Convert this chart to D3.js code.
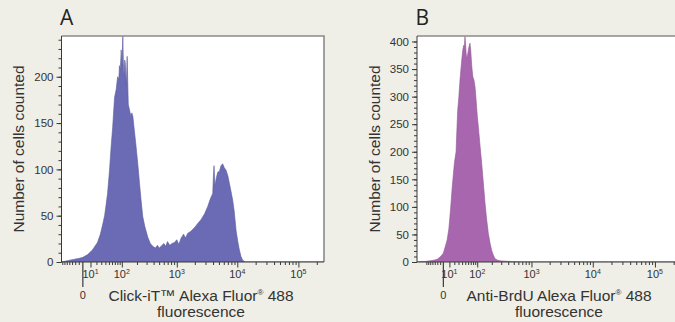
<!DOCTYPE html>
<html>
<head>
<meta charset="utf-8">
<script src="https://cdn.jsdelivr.net/npm/d3@7"></script>
<style>
  body { margin: 0; background: #efeee7; }
  svg { display: block; font-family: "Liberation Sans", Arial, sans-serif; }
</style>
</head>
<body>
<svg id="chart" width="675" height="322"></svg>
<script>
// Panel A - Click-iT histogram: fluorescence value / number of cells
const clickFluor = [-37, -27, -19, -11, -4, 0, 6, 13, 22, 28, 33, 38, 42, 46, 52, 57, 62, 69, 75, 81,
  86, 89, 93, 97, 101, 105, 108, 111, 115, 118, 124, 129, 133, 136, 144, 152, 160, 167, 180, 193,
  208, 223, 240, 256, 280, 315, 350, 387, 430, 467, 500, 542, 600, 650, 695, 760, 830, 912, 1000, 1080,
  1183, 1300, 1400, 1524, 1700, 1969, 2200, 2541, 2900, 3268, 3600, 3948, 4050, 4150, 4300, 4500, 4770, 5100, 5400, 5760,
  6100, 6550, 7000, 7420, 7900, 8400, 8900, 9300, 9560, 10200, 10820, 11500, 12260, 13500, 262144];
const clickCount = [0, 1, 2, 3, 4, 5, 8, 13, 21, 30, 40, 50, 62, 74, 100, 125, 145, 178, 186, 200,
  197, 212, 208, 229, 212, 244, 214, 200, 218, 215, 190, 222, 190, 170, 164, 158, 161, 157, 140, 124,
  105, 85, 65, 49, 38, 27, 20, 17, 15, 18, 15, 17, 20, 17, 22, 18, 20, 21, 24, 19,
  26, 30, 26, 31, 33, 37, 41, 46, 52, 60, 68, 74, 92, 104, 82, 90, 97, 98, 104, 106,
  102, 99, 93, 85, 76, 67, 55, 42, 34, 22, 13, 6, 2, 0, 0];

// Panel B - anti-BrdU histogram
const brduFluor = [-66, -50, -39, -28, -18, -10, -5, 0, 3, 6, 9, 11, 13, 15, 18, 20, 22, 24, 26, 28,
  31, 34, 38, 42, 45, 47, 49, 51, 53, 55, 57, 60, 63, 67, 70, 72, 75, 79, 84, 89,
  93, 97, 101, 106, 115, 125, 135, 147, 158, 171, 185, 199, 215, 230, 260, 300, 430, 640, 262144];
const brduCount = [0, 1, 1, 2, 3, 5, 9, 16, 28, 40, 60, 82, 105, 130, 160, 178, 190, 200, 240, 275,
  300, 330, 360, 385, 393, 390, 409, 395, 378, 370, 373, 382, 390, 397, 385, 370, 352, 336, 330, 318,
  300, 280, 262, 245, 212, 179, 145, 106, 78, 52, 34, 21, 12, 6, 3, 2, 1, 0, 0];

// axis tick values
const decadeTicks = [10, 100, 1000, 10000, 100000];
const decadeExp = ["1", "2", "3", "4", "5"];
const yTicksA = [0, 50, 100, 150, 200];
const yTicksB = [0, 50, 100, 150, 200, 250, 300, 350, 400];

const svg = d3.select("#chart");
const textCol = "#333";

const panels = [
  {
    letter: "A", fluor: clickFluor, count: clickCount, yTicks: yTicksA, yMax: 244,
    xMin: -37, constant: 30, left: 61.5, right: 324, fill: "#6b6bb5",
    title: ["Click-iT\u2122 Alexa Fluor", " 488"], yLabelX: 18, titleX: 201
  },
  {
    letter: "B", fluor: brduFluor, count: brduCount, yTicks: yTicksB, yMax: 410,
    xMin: -66, constant: 40, left: 417, right: 681, fill: "#a866ae",
    title: ["Anti-BrdU Alexa Fluor", " 488"], yLabelX: 374, titleX: 559
  }
];

const plotTop = 36, plotBottom = 262;

panels.forEach((p, i) => {
  let g = svg.append("g");

  let x = d3.scaleSymlog().constant(p.constant)
    .domain([p.xMin, 262144]).range([p.left, p.right]);
  let y = d3.scaleLinear().domain([0, p.yMax]).range([plotBottom, plotTop]);

  // white plot area
  g.append("rect")
    .attr("x", p.left).attr("y", plotTop)
    .attr("width", p.right - p.left).attr("height", plotBottom - plotTop)
    .attr("fill", "#fff");

  g.append("clipPath").attr("id", "clip" + i)
    .append("rect")
    .attr("x", p.left).attr("y", plotTop)
    .attr("width", p.right - p.left).attr("height", plotBottom - plotTop);

  let data = p.fluor.map((v, j) => ({v: v, n: p.count[j]}));

  let area = d3.area()
    .x(d => x(d.v))
    .y0(y(0))
    .y1(d => y(d.n));

  g.append("path")
    .datum(data)
    .attr("clip-path", `url(#clip${i})`)
    .attr("d", area)
    .attr("fill", p.fill)
    .attr("stroke", d3.color(p.fill).darker(0.4))
    .attr("stroke-width", 0.6);

  // frame top + right
  g.append("path")
    .attr("d", `M${p.left},${plotTop}H${p.right}V${plotBottom}`)
    .attr("fill", "none")
    .attr("stroke", "#8a8a8a")
    .attr("stroke-width", 1.6);

  // y axis: minor then major
  let yMinor = d3.axisLeft(y).tickValues(d3.range(0, p.yMax, 10))
    .tickSize(3).tickFormat("");
  g.append("g").attr("transform", `translate(${p.left},0)`).call(yMinor)
    .call(a => a.select(".domain").remove());

  let yAxis = d3.axisLeft(y).tickValues(p.yTicks).tickSize(5).tickPadding(3);
  let ya = g.append("g").attr("transform", `translate(${p.left},0)`).call(yAxis);
  ya.select(".domain").attr("d", `M0,${plotTop}V${plotBottom}`);
  ya.selectAll("text").attr("font-size", 11.5).attr("fill", textCol)
    .attr("font-family", "Liberation Sans, Arial, sans-serif");

  // x axis: decade and minor ticks
  let minor = [];
  d3.range(-35, 0, 5).forEach(v => minor.push(v));
  [10, 100, 1000, 10000, 100000].forEach(dec => {
    d3.range(2, 10).forEach(m => { if (dec * m < 262144) minor.push(dec * m); });
  });

  let xMinor = d3.axisBottom(x).tickValues(minor.filter(v => v > p.xMin))
    .tickSize(3).tickFormat("");
  g.append("g").attr("transform", `translate(0,${plotBottom})`).call(xMinor)
    .call(a => a.select(".domain").remove());

  let xAxis = d3.axisBottom(x).tickValues(decadeTicks).tickSize(5.5).tickFormat("");
  let xa = g.append("g").attr("transform", `translate(0,${plotBottom})`).call(xAxis);
  xa.select(".domain").attr("d", `M${p.left},0H${p.right}`);

  svg.selectAll(".tick line, .domain").attr("stroke", "#3a3a3a");

  // decade labels 10^n
  let lab = g.selectAll(".declab").data(decadeTicks).enter()
    .append("text").classed("declab", true)
    .attr("x", d => x(d))
    .attr("y", plotBottom + 16)
    .attr("text-anchor", "middle")
    .attr("font-size", 11)
    .attr("fill", textCol);
  lab.append("tspan").text("10");
  lab.append("tspan").attr("dy", -4).attr("font-size", 7)
    .text((d, j) => decadeExp[j]);

  // zero marker
  g.append("line")
    .attr("x1", x(0)).attr("x2", x(0))
    .attr("y1", plotBottom).attr("y2", plotBottom + 25)
    .attr("stroke", "#3a3a3a").attr("stroke-width", 1.2);
  g.append("text")
    .attr("x", x(0)).attr("y", plotBottom + 37)
    .attr("text-anchor", "middle")
    .attr("font-size", 11).attr("fill", textCol)
    .text("0");

  // axis titles
  let t1 = g.append("text")
    .attr("x", p.titleX).attr("y", 301)
    .attr("text-anchor", "middle")
    .attr("font-size", 15.5).attr("fill", textCol);
  t1.append("tspan").text(p.title[0]);
  t1.append("tspan").attr("dy", -6).attr("font-size", 8).text("\u00AE");
  t1.append("tspan").attr("dy", 6).text(p.title[1]);

  g.append("text")
    .attr("x", p.titleX).attr("y", 316.5)
    .attr("text-anchor", "middle")
    .attr("font-size", 15.5).attr("fill", textCol)
    .text("fluorescence");

  g.append("text")
    .attr("transform", `translate(${p.yLabelX + 5.5},${149}) rotate(-90)`)
    .attr("text-anchor", "middle")
    .attr("font-size", 15.5).attr("fill", textCol)
    .text("Number of cells counted");

  // panel letter
  g.append("text")
    .attr("x", p.left - 1.5).attr("y", 25)
    .attr("font-family", "Open Sans, sans-serif")
    .attr("font-size", 21).attr("fill", "#222")
    .text(p.letter);
});
</script>
</body>
</html>
